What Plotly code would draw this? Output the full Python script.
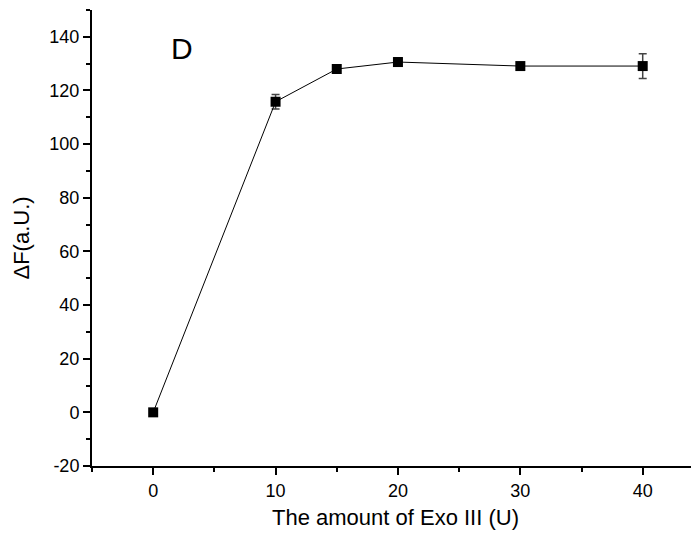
import plotly.graph_objects as go

x_units = [0, 10, 15, 20, 30, 40]
delta_f = [0, 115.8, 128.0, 130.6, 129.1, 129.1]
err = [0, 2.7, 0.8, 1.6, 0.8, 4.6]
y_ticks = [-20, 0, 20, 40, 60, 80, 100, 120, 140]
y_tick_text = ["-20", "0", "20", "40", "60", "80", "100", "120", "140"]
x_ticks = [0, 10, 20, 30, 40]

fig = go.Figure()
fig.add_trace(go.Scatter(
    x=x_units, y=delta_f, mode="lines+markers",
    line=dict(color="black", width=1),
    marker=dict(symbol="square", size=10, color="black"),
    error_y=dict(type="data", array=err, visible=True, color="#444", thickness=1.5, width=4),
    showlegend=False,
))

fig.add_annotation(x=2.34, y=135.8, text="D", showarrow=False,
                   font=dict(size=30, color="black", family="Liberation Sans"))

axis_common = dict(
    showline=True, linecolor="black", linewidth=2, ticks="outside", ticklen=7,
    tickwidth=2, tickcolor="black", showgrid=False, zeroline=False, automargin=False,
    tickfont=dict(size=18, color="black", family="Liberation Sans"),
)

fig.update_layout(
    width=691, height=522,
    margin=dict(l=84, r=0, t=2, b=64),
    plot_bgcolor="white", paper_bgcolor="white",
    font=dict(family="Liberation Sans", color="black"),
    xaxis=dict(range=[-5, 44.6], tickvals=x_ticks,
               minor=dict(tickvals=[-5, 5, 15, 25, 35], ticks="outside", ticklen=4, tickwidth=2, tickcolor="black"),
               title=dict(text="The amount of Exo III (U)", font=dict(size=22), standoff=14),
               **axis_common),
    yaxis=dict(range=[-20, 150], tickvals=y_ticks, ticktext=y_tick_text,
               minor=dict(dtick=10, ticks="outside", ticklen=4, tickwidth=2, tickcolor="black"),
               title=dict(text="ΔF(a.U.)", font=dict(size=22), standoff=14),
               **axis_common),
)

fig.write_html("out.html")
